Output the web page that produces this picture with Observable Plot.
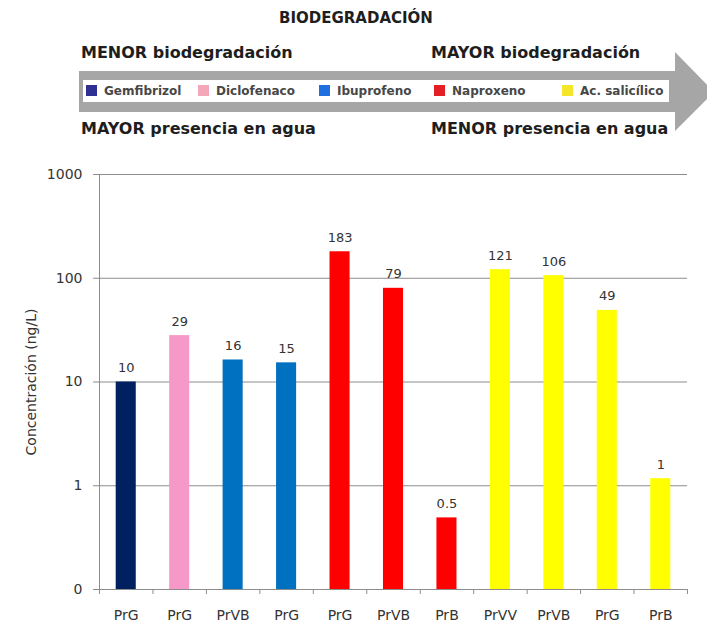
<!DOCTYPE html>
<html>
<head>
<meta charset="utf-8">
<script src="https://cdn.jsdelivr.net/npm/d3@7"></script>
<script src="https://cdn.jsdelivr.net/npm/@observablehq/plot@0.6"></script>
<style>
  html, body { margin: 0; padding: 0; background: #fff; }
  #wrap { width: 707px; }
  #header { position: relative; width: 707px; height: 160px; font-family: "DejaVu Sans", sans-serif; color: #1e1e1e; }
  #header svg { position: absolute; left: 0; top: 0; }
  .ht { position: absolute; font-weight: 700; white-space: nowrap; }
  #legend { position: absolute; left: 83px; top: 80px; width: 586px; height: 22px; background: #fff; }
  .li { position: absolute; top: 5px; font-size: 12px; font-weight: 700; color: #474747; white-space: nowrap; line-height: 12px; }
  .sw { display: inline-block; width: 11px; height: 11px; vertical-align: top; margin-right: 7px; }
</style>
</head>
<body>
<div id="wrap">
  <div id="header">
    <svg width="707" height="160">
      <polygon points="79,71 675,71 675,52 714,92 675,131 675,112 79,112" fill="#a6a6a6"></polygon>
    </svg>
    <div class="ht" id="title" style="left:279px;top:11px;font-size:15px;line-height:15px;"></div>
    <div class="ht" id="tl" style="left:81px;top:45px;font-size:16px;line-height:16px;"></div>
    <div class="ht" id="tr" style="left:431px;top:45px;font-size:16px;line-height:16px;"></div>
    <div class="ht" id="bl" style="left:81px;top:121px;font-size:16px;line-height:16px;"></div>
    <div class="ht" id="br" style="left:431px;top:121px;font-size:16px;line-height:16px;"></div>
    <div id="legend"></div>
  </div>
  <div id="chart"></div>
</div>
<script>
// ---- data ----
const headerTitle = "BIODEGRADACIÓN";
const headerTexts = ["MENOR biodegradación", "MAYOR biodegradación", "MAYOR presencia en agua", "MENOR presencia en agua"];
const compoundNames = ["Gemfibrizol", "Diclofenaco", "Ibuprofeno", "Naproxeno", "Ac. salicílico"];
const sites = ["PrG", "PrG", "PrVB", "PrG", "PrG", "PrVB", "PrB", "PrVV", "PrVB", "PrG", "PrB"];
const barCompound = ["Gemfibrizol", "Diclofenaco", "Ibuprofeno", "Ibuprofeno", "Naproxeno", "Naproxeno", "Naproxeno", "Ac. salicílico", "Ac. salicílico", "Ac. salicílico", "Ac. salicílico"];
const values = [10, 28, 16.3, 15.3, 180, 80, 0.49, 121, 106, 49, 1.17];
const valueLabels = ["10", "29", "16", "15", "183", "79", "0.5", "121", "106", "49", "1"];
const yTicks = [0.1, 1, 10, 100, 1000];
const yTickLabels = ["0", "1", "10", "100", "1000"];
const yTitle = "Concentración (ng/L)";

// ---- styling ----
const barColors = ["#002060", "#f799c8", "#0070c0", "#ff0000", "#ffff00"];
const legendColors = ["#2e3192", "#f4a7b9", "#1f6fe0", "#e31e24", "#f5e62a"];
const legendLeft = [3, 115, 236, 351, 479];

// ---- header ----
document.getElementById("title").textContent = headerTitle;
["tl", "tr", "bl", "br"].forEach((id, i) => document.getElementById(id).textContent = headerTexts[i]);
const legend = document.getElementById("legend");
compoundNames.forEach((name, i) => {
  const item = document.createElement("div");
  item.className = "li";
  item.style.left = legendLeft[i] + "px";
  const sw = document.createElement("span");
  sw.className = "sw";
  sw.style.background = legendColors[i];
  item.appendChild(sw);
  item.appendChild(document.createTextNode(name));
  legend.appendChild(item);
});

// ---- chart ----
const data = sites.map((s, i) => ({i, site: s, compound: barCompound[i], value: values[i], label: valueLabels[i]}));
const grey = "#8c8c8c";

const chart = Plot.plot({
  width: 707,
  height: 468,
  marginTop: 14,
  marginBottom: 39,
  marginLeft: 99,
  marginRight: 20,
  style: {fontFamily: "'DejaVu Sans', sans-serif", fontSize: "14px", color: "#333", background: "#fff"},
  x: {type: "linear", domain: [0, sites.length], axis: null},
  y: {type: "log", domain: [yTicks[0], yTicks[yTicks.length - 1]], axis: null},
  color: {domain: compoundNames, range: barColors},
  marks: [
    Plot.ruleY(yTicks, {stroke: grey, strokeWidth: 1}),
    Plot.ruleX([0], {stroke: grey}),
    Plot.axisY({ticks: yTicks, tickFormat: (d) => yTickLabels[yTicks.indexOf(d)], tickSize: 6, tickPadding: 11, stroke: grey, fontSize: 14,
      label: yTitle, labelAnchor: "center", labelArrow: "none", labelOffset: 73}),
    Plot.axisX({ticks: d3.range(sites.length + 1), tickSize: 5, tickFormat: () => "", stroke: grey, label: null}),
    Plot.axisX({ticks: sites.map((_, i) => i + 0.5), tickSize: 0, tickPadding: 21, fontSize: 14, tickFormat: (d) => sites[Math.floor(d)], label: null}),
    Plot.rectY(data, {x1: "i", x2: (d) => d.i + 1, y1: yTicks[0], y2: "value", fill: "compound", insetLeft: 16.7, insetRight: 16.7}),
    Plot.text(data, {x: (d) => d.i + 0.5, y: "value", text: "label", dy: -10, lineAnchor: "bottom", fontSize: 13, fill: "#333"})
  ]
});
document.getElementById("chart").appendChild(chart);
</script>
</body>
</html>
